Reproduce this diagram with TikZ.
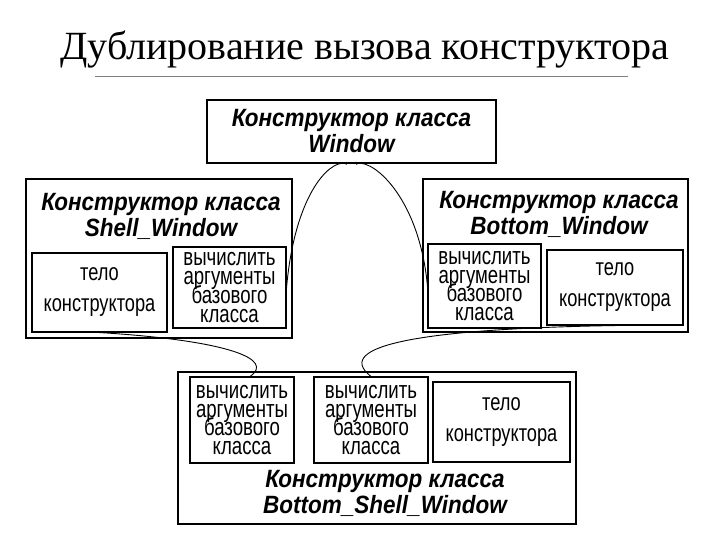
\documentclass[tikz,border=0pt]{standalone}
\usepackage{fontspec}
\usepackage{tikz}
\usetikzlibrary{arrows.meta}
\setmainfont{Liberation Serif}
\newfontfamily\headface[FakeStretch=0.9]{Liberation Sans}
\newfontfamily\narrowface[FakeStretch=0.76]{Liberation Sans}
\newcommand{\headfont}{\headface\bfseries\itshape\fontsize{25}{26}\selectfont}
\newcommand{\callfont}{\narrowface\fontsize{24.5}{18.7}\selectfont\lineskiplimit=-30pt\lineskip=0pt}
\newcommand{\bodyfont}{\narrowface\fontsize{24}{31}\selectfont}

\begin{document}
\begin{tikzpicture}[x=1pt, y=-1pt,
    frame/.style={draw, fill=white, line width=1.1pt, inner sep=0pt},
    headtext/.style={align=center, font=\headfont},
    calltext/.style={frame, align=center, font=\callfont},
    bodytext/.style={frame, align=center, font=\bodyfont},
    link/.style={line width=0.9pt}]
    \useasboundingbox (0,0) rectangle (720,540);

    \node[anchor=base, font=\fontsize{40}{44}\selectfont] (title) at (365,60) {Дублирование вызова конструктора};
    \draw[gray, line width=1pt] (95,77) -- (628,77);

    \node[frame, headtext, minimum width=289pt, minimum height=63pt] (window) at (351.5,131.5) {Конструктор класса\\Window};

    \node[frame, minimum width=266pt, minimum height=159pt] (shell) at (159,258.5) {};
    \node[headtext] (shellhead) at (161,216) {Конструктор класса\\Shell\_Window};
    \node[bodytext, minimum width=135pt, minimum height=79pt] (shellbody) at (99.5,292.5) {тело\\конструктора};
    \node[calltext, minimum width=113pt, minimum height=81pt] (shellargs) at (229.5,287.5) {вычислить\\аргументы\\базового\\класса};

    \node[frame, minimum width=265pt, minimum height=153pt] (bottom) at (555.5,255.5) {};
    \node[headtext] (bottomhead) at (559,214) {Конструктор класса\\Bottom\_Window};
    \node[calltext, minimum width=113pt, minimum height=84pt] (bottomargs) at (484.5,286) {вычислить\\аргументы\\базового\\класса};
    \node[bodytext, minimum width=136pt, minimum height=75pt] (bottombody) at (615,287.5) {тело\\конструктора};

    \node[frame, minimum width=398pt, minimum height=152pt] (bsw) at (377,448) {};
    \node[calltext, minimum width=104pt, minimum height=86pt] (bswargsa) at (242,420) {вычислить\\аргументы\\базового\\класса};
    \node[calltext, minimum width=114pt, minimum height=86pt] (bswargsb) at (371,420) {вычислить\\аргументы\\базового\\класса};
    \node[bodytext, minimum width=137pt, minimum height=80pt] (bswbody) at (501.5,422) {тело\\конструктора};
    \node[headtext] (bswhead) at (385,493) {Конструктор класса\\Bottom\_Shell\_Window};

    \draw[link, -{Circle[length=2.5pt]}] (shellargs.east) .. controls +(8,-90) and +(-20,-3) .. ([xshift=-4pt]window.south);
    \draw[link, -{Circle[length=2.5pt]}] (bottomargs.west) .. controls +(-8,-86) and +(20,-3) .. ([xshift=4pt]window.south);
    \draw[link] (shellbody.south) .. controls +(130,8) and +(25,-17) .. ([xshift=8pt]bswargsa.north);
    \draw[link] (bottombody.south) .. controls +(-185,3) and +(-41,-32) .. (bswargsb.north);
\end{tikzpicture}
\end{document}
